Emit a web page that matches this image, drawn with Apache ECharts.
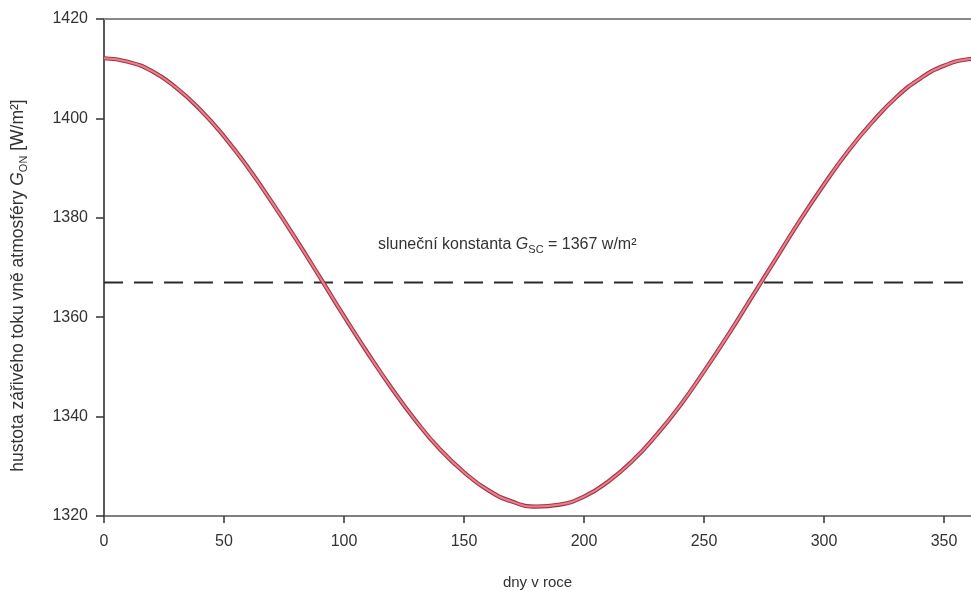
<!DOCTYPE html>
<html>
<head>
<meta charset="utf-8">
<script src="https://cdn.jsdelivr.net/npm/echarts@6/dist/echarts.min.js"></script>
<style>html,body{margin:0;padding:0;background:#fff}#c{width:971px;height:591px}</style>
</head>
<body>
<div id="c"></div>
<script>
const days = [0,10,20,30,40,50,60,70,80,90,100,110,120,130,140,150,160,170,180,190,200,210,220,230,240,250,260,270,280,290,300,310,320,330,340,350,360,365];
const gon  = [1412.1,1411.4,1409.5,1406.2,1401.8,1396.4,1390.1,1383.1,1375.7,1368.0,1360.2,1352.7,1345.6,1339.1,1333.4,1328.8,1325.2,1322.9,1321.9,1322.3,1323.9,1326.9,1331.0,1336.2,1342.2,1349.1,1356.4,1364.1,1371.8,1379.5,1386.7,1393.4,1399.2,1404.2,1408.0,1410.6,1411.9,1412.1];
const gsc = 1367;
const gscDays = [0, 365];
const xTicks = [0,50,100,150,200,250,300,350];
const yTicks = [1320,1340,1360,1380,1400,1420];

const FONT = '"Liberation Sans", Arial, sans-serif';
const curve = days.map((d,i)=>[d,gon[i]]);
const gscLine = gscDays.map(d=>[d,gsc]);

const chart = echarts.init(document.getElementById('c'), null, {renderer:'canvas'});
chart.setOption({
  animation:false,
  backgroundColor:'#fff',
  grid:{left:104,right:0,top:19,bottom:75,containLabel:false,outerBoundsMode:'none'},
  xAxis:[{
    type:'value', min:0, max:361.25, interval:50,
    axisLine:{show:true,lineStyle:{color:'#555',width:1.5}},
    axisTick:{show:true,inside:false,length:7,lineStyle:{color:'#333',width:1.5}},
    axisLabel:{show:true,fontFamily:FONT,fontSize:16,color:'#333',margin:18,showMaxLabel:false,
      formatter:v=>xTicks.includes(v)?String(v):''},
    splitLine:{show:false},
    name:'dny v roce', nameLocation:'middle', nameGap:59,
    nameTextStyle:{fontFamily:FONT,fontSize:15,color:'#333'}
  },{
    type:'value', position:'top', min:0, max:361.25,
    axisLine:{show:true,lineStyle:{color:'#888',width:2}},
    axisTick:{show:false}, axisLabel:{show:false}, splitLine:{show:false}
  }],
  yAxis:{
    type:'value', min:1320, max:1420, interval:20,
    axisLine:{show:true,lineStyle:{color:'#222',width:1.5}},
    axisTick:{show:true,inside:false,length:8,lineStyle:{color:'#333',width:1.5}},
    axisLabel:{fontFamily:FONT,fontSize:16,color:'#333',margin:16,
      formatter:v=>yTicks.includes(v)?String(v):''},
    splitLine:{show:false},
    name:'hustota zářivého toku vně atmosféry {g|G}{sub|ON} [W/m²]',
    nameLocation:'middle', nameGap:75, nameRotate:90,
    nameTextStyle:{fontFamily:FONT,fontSize:17.5,color:'#333',lineHeight:22,padding:[0,36,0,0],
      rich:{
        g:{fontFamily:FONT,fontSize:17.5,fontStyle:'italic',color:'#333',lineHeight:22},
        sub:{fontFamily:FONT,fontSize:11,color:'#333',lineHeight:13,verticalAlign:'bottom'}
      }}
  },
  series:[
    {type:'line', data:gscLine, showSymbol:false, silent:true,
     lineStyle:{color:'#2a2a2a',width:2,type:[19,11]}, z:2},
    {type:'line', data:curve, smooth:true, showSymbol:false, silent:true,
     lineStyle:{color:'#a33446',width:4.2}, z:3},
    {type:'line', data:curve, smooth:true, showSymbol:false, silent:true,
     lineStyle:{color:'#e8808d',width:2}, z:4}
  ],
  graphic:[{
    type:'text', left:378, top:235, silent:true,
    style:{
      text:'sluneční konstanta {g|G}{sub|SC} = 1367 w/m²',
      fontFamily:FONT, fontSize:16, fill:'#333', lineHeight:20,
      rich:{
        g:{fontFamily:FONT,fontSize:16,fontStyle:'italic',fill:'#333',lineHeight:20},
        sub:{fontFamily:FONT,fontSize:11,fill:'#333',lineHeight:12,verticalAlign:'bottom'}
      }
    }
  }]
});
</script>
</body>
</html>
